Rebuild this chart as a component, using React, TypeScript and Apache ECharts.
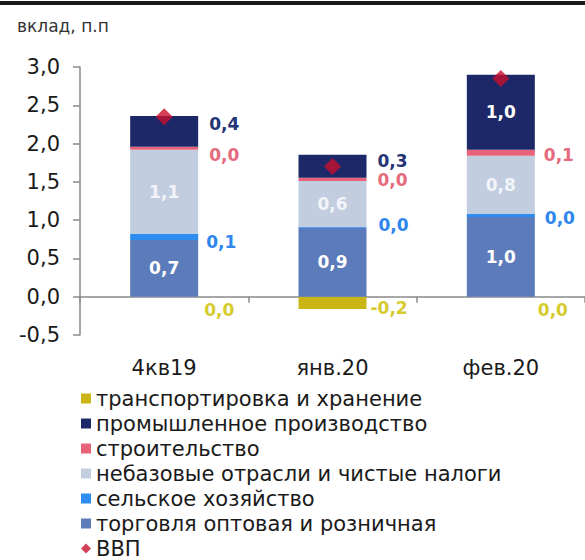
import React, { useEffect, useRef } from "react";
import * as echarts from "echarts";

const categories = ["4кв19", "янв.20", "фев.20"];
const transport = [0, -0.16, 0];
const trade = [0.74, 0.9, 1.04];
const agri = [0.08, 0.01, 0.04];
const nonbase = [1.1, 0.6, 0.76];
const construction = [0.04, 0.045, 0.08];
const industry = [0.4, 0.3, 0.98];
const gdp = [2.35, 1.7, 2.85];

const names = {
  transport: "транспортировка и хранение",
  industry: "промышленное производство",
  construction: "строительство",
  nonbase: "небазовые отрасли и чистые налоги",
  agri: "сельское хозяйство",
  trade: "торговля оптовая и розничная",
  gdp: "ВВП",
};

const FONT = "DejaVu Sans";
const fmt = (v: number) => v.toFixed(1).replace(".", ",");

const colors = {
  transport: "#c9b516",
  industry: "#1c2868",
  construction: "#e8637a",
  nonbase: "#c3cde0",
  agri: "#2f8cf0",
  trade: "#5b7bba",
  gdp: "#c8102e",
};

const baseLabel = {
  show: true,
  fontFamily: FONT,
  fontSize: 17,
  fontWeight: "bold" as const,
  formatter: (p: any) => fmt(Number(p.value)),
};

function items(values: number[], labels: any[]) {
  return values.map((v, i) => ({ value: v, label: labels[i] }));
}

export default function App() {
  const ref = useRef<HTMLDivElement>(null);
  useEffect(() => {
    if (!ref.current) return;
    const chart = echarts.init(ref.current, undefined, { renderer: "svg" });
    const barCommon = { type: "bar", stack: "total", barWidth: 68 };
    chart.setOption({
      animation: false,
      textStyle: { fontFamily: FONT },
      graphic: [
        {
          type: "rect",
          shape: { x: 0, y: 1, width: 585, height: 4 },
          style: { fill: "#1a1a1a" },
        },
      ],
      title: {
        text: "вклад, п.п",
        left: 17,
        top: 17,
        padding: 0,
        textStyle: { fontFamily: FONT, fontSize: 17, fontWeight: "normal", color: "#333" },
      },
      grid: { left: 80, top: 67, width: 512, height: 268, containLabel: false },
      legend: {
        orient: "vertical",
        left: 81,
        top: 388,
        padding: 0,
        itemWidth: 10,
        itemHeight: 10,
        itemGap: 4,
        selectedMode: false,
        textStyle: { fontFamily: FONT, fontSize: 21, lineHeight: 21, color: "#1a1a1a" },
        data: [
          { name: names.transport, icon: "rect" },
          { name: names.industry, icon: "rect" },
          { name: names.construction, icon: "rect" },
          { name: names.nonbase, icon: "rect" },
          { name: names.agri, icon: "rect" },
          { name: names.trade, icon: "rect" },
          { name: names.gdp, icon: "diamond" },
        ],
      },
      xAxis: {
        type: "category",
        data: categories,
        axisLine: { onZero: true, lineStyle: { color: "#8a8a8a", width: 1.5 } },
        axisTick: { show: true, length: 6, lineStyle: { color: "#8a8a8a", width: 1.5 } },
        axisLabel: { margin: 22, fontFamily: FONT, fontSize: 21, color: "#1a1a1a" },
      },
      yAxis: {
        type: "value",
        min: -0.5,
        max: 3,
        interval: 0.5,
        splitLine: { show: false },
        axisLine: { show: true, lineStyle: { color: "#8a8a8a", width: 1.5 } },
        axisTick: { show: true, length: 7, lineStyle: { color: "#8a8a8a", width: 1.5 } },
        axisLabel: {
          margin: 20,
          fontFamily: FONT,
          fontSize: 21,
          color: "#1a1a1a",
          formatter: (v: number) => fmt(v),
        },
      },
      series: [
        {
          ...barCommon,
          name: names.transport,
          itemStyle: { color: colors.transport },
          label: { ...baseLabel, position: "right", color: "#d6cb2e" },
          data: items(transport, [
            { distance: 6, offset: [0, 13] },
            { distance: 4, offset: [0, 5] },
            { distance: 3, offset: [0, 13] },
          ]),
        },
        {
          ...barCommon,
          name: names.trade,
          itemStyle: { color: colors.trade },
          label: { ...baseLabel, position: "inside", color: "#ffffff" },
          data: trade,
        },
        {
          ...barCommon,
          name: names.agri,
          itemStyle: { color: colors.agri },
          label: { ...baseLabel, position: "right", color: "#2f86ee" },
          data: items(agri, [
            { distance: 8, offset: [0, 5] },
            { distance: 12, offset: [0, -2] },
            { distance: 10, offset: [0, 2] },
          ]),
        },
        {
          ...barCommon,
          name: names.nonbase,
          itemStyle: { color: colors.nonbase },
          label: { ...baseLabel, position: "inside", color: "#f2f4f9" },
          data: nonbase,
        },
        {
          ...barCommon,
          name: names.construction,
          itemStyle: { color: colors.construction },
          label: { ...baseLabel, position: "right", color: "#e56a7c" },
          data: items(construction, [
            { distance: 11, offset: [0, 7] },
            { distance: 11, offset: [0, 1] },
            { distance: 9, offset: [0, 2] },
          ]),
        },
        {
          ...barCommon,
          name: names.industry,
          itemStyle: { color: colors.industry },
          label: { ...baseLabel, position: "right", color: "#253576" },
          data: items(industry, [
            { distance: 11, offset: [0, -7] },
            { distance: 11, offset: [0, -5] },
            { position: "inside", color: "#ffffff" },
          ]),
        },
        {
          type: "scatter",
          name: names.gdp,
          symbol: "diamond",
          symbolSize: 17,
          z: 5,
          itemStyle: { color: colors.gdp },
          data: gdp,
        },
      ],
    });
    return () => chart.dispose();
  }, []);
  return (
    <div
      ref={ref}
      style={{ position: "absolute", left: 0, top: 0, width: 585, height: 560 }}
    />
  );
}
